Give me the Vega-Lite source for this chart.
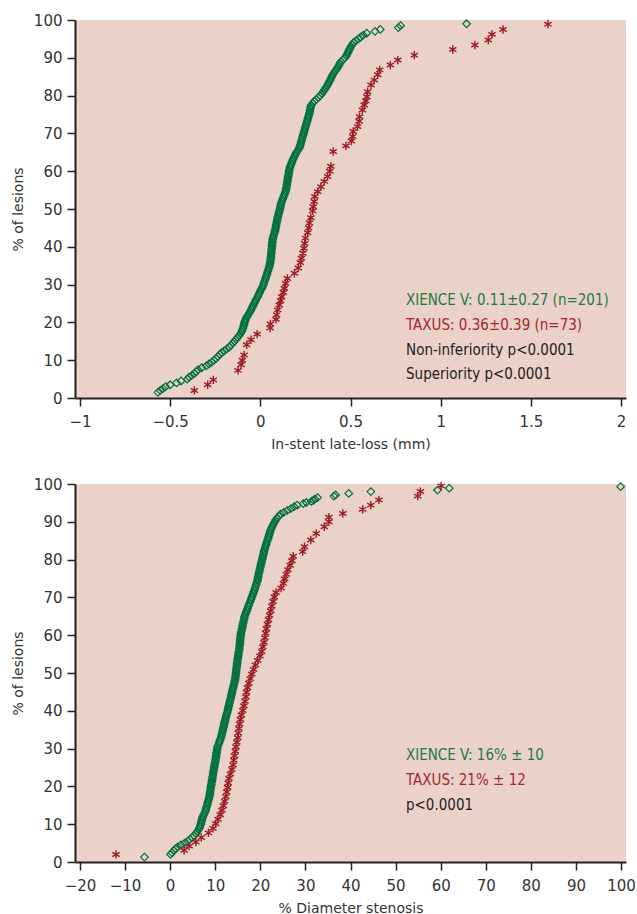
{
"$schema": "https://vega.github.io/schema/vega-lite/v6.json",
"padding": {"left": 11, "top": 13, "right": 5, "bottom": 5},
"background": "white",
"spacing": 26,
"config": {
  "view": {"fill": "#EAD2C9", "stroke": null},
  "axis": {"grid": false, "domainColor": "#231F20", "domainWidth": 2, "tickColor": "#231F20", "tickWidth": 1.5, "tickSize": 8,
    "labelFont": "DejaVu Sans", "labelFontSize": 15, "labelColor": "#333333", "labelFlush": false, "labelOverlap": false,
    "titleFont": "DejaVu Sans", "titleFontSize": 14, "titleFontWeight": "normal", "titleColor": "#333333"},
  "axisX": {"labelPadding": 8, "titlePadding": 8},
  "axisY": {"labelPadding": 5, "titlePadding": 8}
},
"datasets": {
  "topX": [
    {"x":-0.568,"y":1.5},{"x":-0.555,"y":2.0},{"x":-0.54,"y":2.5},{"x":-0.525,"y":3.0},{"x":-0.5,"y":3.5},{"x":-0.465,"y":4.0},{"x":-0.44,"y":4.5},{"x":-0.405,"y":5.0},{"x":-0.395,"y":5.5},{"x":-0.38,"y":6.0},
    {"x":-0.365,"y":6.5},{"x":-0.355,"y":7.0},{"x":-0.345,"y":7.5},{"x":-0.325,"y":8.0},{"x":-0.3,"y":8.5},{"x":-0.285,"y":9.0},{"x":-0.27,"y":9.5},{"x":-0.257,"y":10.0},{"x":-0.245,"y":10.5},{"x":-0.235,"y":11.0},
    {"x":-0.225,"y":11.5},{"x":-0.215,"y":12.0},{"x":-0.2,"y":12.5},{"x":-0.185,"y":13.0},{"x":-0.172,"y":13.5},{"x":-0.163,"y":14.0},{"x":-0.153,"y":14.5},{"x":-0.144,"y":15.0},{"x":-0.135,"y":15.5},{"x":-0.127,"y":16.0},
    {"x":-0.118,"y":16.5},{"x":-0.11,"y":17.0},{"x":-0.104,"y":17.5},{"x":-0.1,"y":18.0},{"x":-0.096,"y":18.5},{"x":-0.093,"y":19.0},{"x":-0.09,"y":19.5},{"x":-0.088,"y":20.0},{"x":-0.084,"y":20.5},{"x":-0.08,"y":21.0},
    {"x":-0.074,"y":21.5},{"x":-0.068,"y":22.0},{"x":-0.061,"y":22.5},{"x":-0.055,"y":23.0},{"x":-0.05,"y":23.5},{"x":-0.045,"y":24.0},{"x":-0.04,"y":24.5},{"x":-0.034,"y":25.0},{"x":-0.029,"y":25.5},{"x":-0.024,"y":26.0},
    {"x":-0.018,"y":26.5},{"x":-0.013,"y":27.0},{"x":-0.008,"y":27.5},{"x":-0.003,"y":28.0},{"x":0.002,"y":28.5},{"x":0.008,"y":29.0},{"x":0.013,"y":29.5},{"x":0.017,"y":30.0},{"x":0.02,"y":30.5},{"x":0.024,"y":31.0},
    {"x":0.028,"y":31.5},{"x":0.031,"y":32.0},{"x":0.035,"y":32.5},{"x":0.038,"y":33.0},{"x":0.041,"y":33.5},{"x":0.045,"y":34.0},{"x":0.048,"y":34.5},{"x":0.051,"y":35.0},{"x":0.053,"y":35.5},{"x":0.055,"y":36.0},
    {"x":0.057,"y":36.5},{"x":0.058,"y":37.0},{"x":0.059,"y":37.5},{"x":0.06,"y":38.0},{"x":0.061,"y":38.5},{"x":0.062,"y":39.0},{"x":0.063,"y":39.5},{"x":0.064,"y":40.0},{"x":0.065,"y":40.5},{"x":0.066,"y":41.0},
    {"x":0.067,"y":41.5},{"x":0.069,"y":42.0},{"x":0.071,"y":42.5},{"x":0.074,"y":43.0},{"x":0.077,"y":43.5},{"x":0.08,"y":44.0},{"x":0.083,"y":44.5},{"x":0.085,"y":45.0},{"x":0.087,"y":45.5},{"x":0.089,"y":46.0},
    {"x":0.091,"y":46.5},{"x":0.093,"y":47.0},{"x":0.095,"y":47.5},{"x":0.097,"y":48.0},{"x":0.1,"y":48.5},{"x":0.103,"y":49.0},{"x":0.106,"y":49.5},{"x":0.109,"y":50.0},{"x":0.111,"y":50.5},{"x":0.113,"y":51.0},
    {"x":0.115,"y":51.5},{"x":0.119,"y":52.0},{"x":0.123,"y":52.5},{"x":0.127,"y":53.0},{"x":0.131,"y":53.5},{"x":0.135,"y":54.0},{"x":0.139,"y":54.5},{"x":0.142,"y":55.0},{"x":0.144,"y":55.5},{"x":0.146,"y":56.0},
    {"x":0.147,"y":56.5},{"x":0.149,"y":57.0},{"x":0.151,"y":57.5},{"x":0.152,"y":58.0},{"x":0.154,"y":58.5},{"x":0.156,"y":59.0},{"x":0.158,"y":59.5},{"x":0.159,"y":60.0},{"x":0.161,"y":60.5},{"x":0.164,"y":61.0},
    {"x":0.168,"y":61.5},{"x":0.172,"y":62.0},{"x":0.176,"y":62.5},{"x":0.18,"y":63.0},{"x":0.185,"y":63.5},{"x":0.19,"y":64.0},{"x":0.195,"y":64.5},{"x":0.2,"y":65.0},{"x":0.208,"y":65.5},{"x":0.215,"y":66.0},
    {"x":0.219,"y":66.5},{"x":0.222,"y":67.0},{"x":0.225,"y":67.5},{"x":0.228,"y":68.0},{"x":0.231,"y":68.5},{"x":0.234,"y":69.0},{"x":0.237,"y":69.5},{"x":0.24,"y":70.0},{"x":0.243,"y":70.5},{"x":0.246,"y":71.0},
    {"x":0.249,"y":71.5},{"x":0.252,"y":72.0},{"x":0.255,"y":72.5},{"x":0.258,"y":73.0},{"x":0.261,"y":73.5},{"x":0.264,"y":74.0},{"x":0.267,"y":74.5},{"x":0.27,"y":75.0},{"x":0.273,"y":75.5},{"x":0.275,"y":76.0},
    {"x":0.277,"y":76.5},{"x":0.279,"y":77.0},{"x":0.282,"y":77.5},{"x":0.29,"y":78.0},{"x":0.3,"y":78.5},{"x":0.31,"y":79.0},{"x":0.322,"y":79.5},{"x":0.333,"y":80.0},{"x":0.341,"y":80.5},{"x":0.348,"y":81.0},
    {"x":0.355,"y":81.5},{"x":0.362,"y":82.0},{"x":0.369,"y":82.5},{"x":0.375,"y":83.0},{"x":0.38,"y":83.5},{"x":0.386,"y":84.0},{"x":0.391,"y":84.5},{"x":0.396,"y":85.0},{"x":0.401,"y":85.5},{"x":0.408,"y":86.0},
    {"x":0.415,"y":86.5},{"x":0.423,"y":87.0},{"x":0.43,"y":87.5},{"x":0.436,"y":88.0},{"x":0.441,"y":88.5},{"x":0.447,"y":89.0},{"x":0.458,"y":89.5},{"x":0.469,"y":90.0},{"x":0.477,"y":90.5},{"x":0.482,"y":91.0},
    {"x":0.487,"y":91.5},{"x":0.492,"y":92.0},{"x":0.497,"y":92.5},{"x":0.503,"y":93.0},{"x":0.509,"y":93.5},{"x":0.516,"y":94.0},{"x":0.53,"y":94.5},{"x":0.544,"y":95.0},{"x":0.557,"y":95.5},{"x":0.571,"y":96.0},
    {"x":0.59,"y":96.5},{"x":0.636,"y":97.0},{"x":0.665,"y":97.5},{"x":0.765,"y":98.0},{"x":0.778,"y":98.5},{"x":1.144,"y":99.0}
  ],
  "topT": [
    {"x":-0.366,"y":2.0},{"x":-0.292,"y":3.5},{"x":-0.261,"y":4.8},{"x":-0.124,"y":7.3},{"x":-0.107,"y":8.8},{"x":-0.1,"y":10.0},{"x":-0.09,"y":11.4},{"x":-0.076,"y":14.1},{"x":-0.052,"y":15.4},{"x":-0.018,"y":16.9},
    {"x":0.054,"y":18.5},{"x":0.056,"y":19.6},{"x":0.087,"y":20.8},{"x":0.09,"y":22.0},{"x":0.096,"y":23.3},{"x":0.105,"y":24.6},{"x":0.112,"y":25.7},{"x":0.118,"y":26.8},{"x":0.128,"y":27.9},{"x":0.133,"y":29.0},
    {"x":0.14,"y":30.3},{"x":0.15,"y":31.6},{"x":0.189,"y":33.0},{"x":0.21,"y":34.4},{"x":0.222,"y":35.8},{"x":0.228,"y":37.0},{"x":0.236,"y":38.3},{"x":0.242,"y":39.6},{"x":0.246,"y":40.9},{"x":0.25,"y":42.3},
    {"x":0.262,"y":43.7},{"x":0.268,"y":45.0},{"x":0.272,"y":46.3},{"x":0.28,"y":47.7},{"x":0.29,"y":49.5},{"x":0.293,"y":50.6},{"x":0.299,"y":52.0},{"x":0.302,"y":53.3},{"x":0.318,"y":54.6},{"x":0.336,"y":55.9},
    {"x":0.355,"y":57.3},{"x":0.373,"y":58.6},{"x":0.385,"y":60.0},{"x":0.391,"y":61.3},{"x":0.404,"y":65.2},{"x":0.475,"y":66.7},{"x":0.505,"y":68.0},{"x":0.512,"y":69.2},{"x":0.515,"y":70.5},{"x":0.539,"y":71.8},
    {"x":0.548,"y":73.2},{"x":0.55,"y":74.4},{"x":0.566,"y":76.2},{"x":0.576,"y":77.5},{"x":0.585,"y":78.6},{"x":0.591,"y":79.7},{"x":0.595,"y":81.0},{"x":0.614,"y":82.8},{"x":0.632,"y":84.1},{"x":0.651,"y":85.5},
    {"x":0.662,"y":86.8},{"x":0.721,"y":88.1},{"x":0.762,"y":89.4},{"x":0.854,"y":90.7},{"x":1.067,"y":92.2},{"x":1.19,"y":93.4},{"x":1.264,"y":94.7},{"x":1.285,"y":96.2},{"x":1.346,"y":97.5},{"x":1.595,"y":98.9}
  ],
  "botX": [
    {"x":-5.7,"y":1.3},{"x":0.1,"y":2.0},{"x":0.4,"y":2.5},{"x":0.8,"y":3.0},{"x":1.2,"y":3.5},{"x":1.7,"y":4.0},{"x":2.4,"y":4.5},{"x":3.2,"y":5.0},{"x":3.9,"y":5.5},{"x":4.4,"y":6.0},
    {"x":4.9,"y":6.5},{"x":5.3,"y":7.0},{"x":5.7,"y":7.5},{"x":6.0,"y":8.0},{"x":6.3,"y":8.5},{"x":6.5,"y":9.0},{"x":6.65,"y":9.5},{"x":6.8,"y":10.0},{"x":6.9,"y":10.5},{"x":7.0,"y":11.0},
    {"x":7.1,"y":11.5},{"x":7.25,"y":12.0},{"x":7.45,"y":12.5},{"x":7.65,"y":13.0},{"x":7.85,"y":13.5},{"x":7.95,"y":14.0},{"x":8.05,"y":14.5},{"x":8.2,"y":15.0},{"x":8.3,"y":15.5},{"x":8.4,"y":16.0},
    {"x":8.55,"y":16.5},{"x":8.65,"y":17.0},{"x":8.75,"y":17.5},{"x":8.8,"y":18.0},{"x":8.85,"y":18.5},{"x":8.95,"y":19.0},{"x":9.0,"y":19.5},{"x":9.05,"y":20.0},{"x":9.15,"y":20.5},{"x":9.2,"y":21.0},
    {"x":9.3,"y":21.5},{"x":9.35,"y":22.0},{"x":9.4,"y":22.5},{"x":9.5,"y":23.0},{"x":9.55,"y":23.5},{"x":9.6,"y":24.0},{"x":9.7,"y":24.5},{"x":9.75,"y":25.0},{"x":9.85,"y":25.5},{"x":9.9,"y":26.0},
    {"x":10.0,"y":26.5},{"x":10.05,"y":27.0},{"x":10.15,"y":27.5},{"x":10.2,"y":28.0},{"x":10.25,"y":28.5},{"x":10.3,"y":29.0},{"x":10.4,"y":29.5},{"x":10.45,"y":30.0},{"x":10.5,"y":30.5},{"x":10.7,"y":31.0},
    {"x":10.85,"y":31.5},{"x":11.0,"y":32.0},{"x":11.15,"y":32.5},{"x":11.3,"y":33.0},{"x":11.4,"y":33.5},{"x":11.5,"y":34.0},{"x":11.6,"y":34.5},{"x":11.7,"y":35.0},{"x":11.8,"y":35.5},{"x":11.9,"y":36.0},
    {"x":12.0,"y":36.5},{"x":12.1,"y":37.0},{"x":12.2,"y":37.5},{"x":12.3,"y":38.0},{"x":12.4,"y":38.5},{"x":12.5,"y":39.0},{"x":12.65,"y":39.5},{"x":12.75,"y":40.0},{"x":12.85,"y":40.5},{"x":12.95,"y":41.0},
    {"x":13.05,"y":41.5},{"x":13.15,"y":42.0},{"x":13.25,"y":42.5},{"x":13.35,"y":43.0},{"x":13.45,"y":43.5},{"x":13.55,"y":44.0},{"x":13.65,"y":44.5},{"x":13.75,"y":45.0},{"x":13.85,"y":45.5},{"x":13.95,"y":46.0},
    {"x":14.05,"y":46.5},{"x":14.15,"y":47.0},{"x":14.25,"y":47.5},{"x":14.35,"y":48.0},{"x":14.45,"y":48.5},{"x":14.5,"y":49.0},{"x":14.55,"y":49.5},{"x":14.6,"y":50.0},{"x":14.65,"y":50.5},{"x":14.7,"y":51.0},
    {"x":14.75,"y":51.5},{"x":14.8,"y":52.0},{"x":14.85,"y":52.5},{"x":14.9,"y":53.0},{"x":14.95,"y":53.5},{"x":15.0,"y":54.0},{"x":15.1,"y":54.5},{"x":15.15,"y":55.0},{"x":15.2,"y":55.5},{"x":15.3,"y":56.0},
    {"x":15.35,"y":56.5},{"x":15.4,"y":57.0},{"x":15.45,"y":57.5},{"x":15.5,"y":58.0},{"x":15.5,"y":58.5},{"x":15.55,"y":59.0},{"x":15.6,"y":59.5},{"x":15.65,"y":60.0},{"x":15.7,"y":60.5},{"x":15.8,"y":61.0},
    {"x":15.9,"y":61.5},{"x":16.0,"y":62.0},{"x":16.05,"y":62.5},{"x":16.15,"y":63.0},{"x":16.25,"y":63.5},{"x":16.35,"y":64.0},{"x":16.45,"y":64.5},{"x":16.5,"y":65.0},{"x":16.7,"y":65.5},{"x":16.85,"y":66.0},
    {"x":17.0,"y":66.5},{"x":17.15,"y":67.0},{"x":17.3,"y":67.5},{"x":17.45,"y":68.0},{"x":17.6,"y":68.5},{"x":17.8,"y":69.0},{"x":17.95,"y":69.5},{"x":18.1,"y":70.0},{"x":18.25,"y":70.5},{"x":18.4,"y":71.0},
    {"x":18.55,"y":71.5},{"x":18.7,"y":72.0},{"x":18.85,"y":72.5},{"x":19.0,"y":73.0},{"x":19.1,"y":73.5},{"x":19.25,"y":74.0},{"x":19.4,"y":74.5},{"x":19.45,"y":75.0},{"x":19.55,"y":75.5},{"x":19.6,"y":76.0},
    {"x":19.7,"y":76.5},{"x":19.8,"y":77.0},{"x":19.9,"y":77.5},{"x":20.0,"y":78.0},{"x":20.1,"y":78.5},{"x":20.2,"y":79.0},{"x":20.3,"y":79.5},{"x":20.4,"y":80.0},{"x":20.5,"y":80.5},{"x":20.6,"y":81.0},
    {"x":20.7,"y":81.5},{"x":20.8,"y":82.0},{"x":20.9,"y":82.5},{"x":21.05,"y":83.0},{"x":21.15,"y":83.5},{"x":21.3,"y":84.0},{"x":21.4,"y":84.5},{"x":21.55,"y":85.0},{"x":21.7,"y":85.5},{"x":21.8,"y":86.0},
    {"x":21.95,"y":86.5},{"x":22.1,"y":87.0},{"x":22.2,"y":87.5},{"x":22.35,"y":88.0},{"x":22.55,"y":88.5},{"x":22.75,"y":89.0},{"x":22.95,"y":89.5},{"x":23.2,"y":90.0},{"x":23.4,"y":90.5},{"x":23.75,"y":91.0},
    {"x":24.1,"y":91.5},{"x":24.5,"y":92.0},{"x":25.2,"y":92.5},{"x":26.0,"y":93.0},{"x":26.8,"y":93.5},{"x":27.5,"y":94.0},{"x":28.2,"y":94.4},{"x":29.5,"y":94.8},{"x":30.2,"y":95.1},{"x":31.3,"y":95.4},
    {"x":31.8,"y":95.7},{"x":32.1,"y":96.0},{"x":32.7,"y":96.4},{"x":36.3,"y":96.8},{"x":36.7,"y":97.1},{"x":39.6,"y":97.5},{"x":44.5,"y":98.0},{"x":59.3,"y":98.4},{"x":61.9,"y":98.9},{"x":99.9,"y":99.3}
  ],
  "botT": [
    {"x":-12.0,"y":2.0},{"x":3.1,"y":3.1},{"x":4.2,"y":4.2},{"x":5.7,"y":5.3},{"x":6.9,"y":6.5},{"x":8.5,"y":7.7},{"x":9.5,"y":8.9},{"x":10.1,"y":10.1},{"x":10.6,"y":11.3},{"x":11.1,"y":12.5},
    {"x":11.5,"y":13.7},{"x":11.8,"y":14.9},{"x":12.1,"y":16.1},{"x":12.35,"y":17.3},{"x":12.55,"y":18.5},{"x":12.75,"y":19.7},{"x":12.9,"y":20.9},{"x":13.05,"y":22.1},{"x":13.35,"y":23.3},{"x":13.7,"y":24.5},
    {"x":13.95,"y":25.7},{"x":14.1,"y":26.9},{"x":14.25,"y":28.1},{"x":14.45,"y":29.3},{"x":14.6,"y":30.5},{"x":14.8,"y":31.7},{"x":15.0,"y":32.9},{"x":15.1,"y":34.1},{"x":15.25,"y":35.3},{"x":15.4,"y":36.5},
    {"x":15.6,"y":37.7},{"x":15.8,"y":38.9},{"x":16.1,"y":40.1},{"x":16.35,"y":41.3},{"x":16.6,"y":42.5},{"x":16.8,"y":43.7},{"x":16.95,"y":44.9},{"x":17.15,"y":46.1},{"x":17.45,"y":47.3},{"x":17.75,"y":48.5},
    {"x":18.1,"y":49.7},{"x":18.5,"y":50.9},{"x":18.9,"y":52.1},{"x":19.4,"y":53.3},{"x":19.9,"y":54.5},{"x":20.3,"y":55.7},{"x":20.55,"y":56.9},{"x":20.8,"y":58.1},{"x":21.0,"y":59.3},{"x":21.2,"y":60.5},
    {"x":21.35,"y":61.7},{"x":21.55,"y":62.9},{"x":21.8,"y":64.1},{"x":22.05,"y":65.3},{"x":22.3,"y":66.5},{"x":22.55,"y":67.7},{"x":22.8,"y":68.9},{"x":23.1,"y":70.1},{"x":23.5,"y":71.3},{"x":24.6,"y":72.5},
    {"x":25.1,"y":73.7},{"x":25.4,"y":74.9},{"x":25.75,"y":76.1},{"x":26.1,"y":77.3},{"x":26.6,"y":78.5},{"x":27.0,"y":79.7},{"x":27.3,"y":80.9},{"x":29.4,"y":82.1},{"x":29.8,"y":83.4},{"x":31.2,"y":85.2},
    {"x":32.4,"y":86.9},{"x":34.2,"y":88.7},{"x":35.2,"y":90.0},{"x":35.2,"y":91.2},{"x":38.3,"y":92.2},{"x":42.7,"y":93.3},{"x":44.5,"y":94.4},{"x":46.3,"y":95.8},{"x":54.9,"y":96.8},{"x":55.5,"y":98.0},
    {"x":60.1,"y":99.5}
  ],
  "topTxt": [
    {"x":0.808,"y":25.8,"t":"XIENCE V: 0.11±0.27 (n=201)","g":"XIENCE V"},
    {"x":0.808,"y":19.2,"t":"TAXUS: 0.36±0.39 (n=73)","g":"TAXUS"},
    {"x":0.808,"y":12.7,"t":"Non-inferiority p<0.0001","g":"stat"},
    {"x":0.808,"y":6.3,"t":"Superiority p<0.0001","g":"stat"}
  ],
  "botTxt": [
    {"x":52.3,"y":28.3,"t":"XIENCE V: 16% ± 10","g":"XIENCE V"},
    {"x":52.3,"y":21.6,"t":"TAXUS: 21% ± 12","g":"TAXUS"},
    {"x":52.3,"y":15.0,"t":"p<0.0001","g":"stat"}
  ]
},
"vconcat": [
  {
    "width": 551, "height": 378,
    "encoding": {
      "x": {"field": "x", "type": "quantitative", "scale": {"domain": [-1.028, 2.028], "nice": false, "zero": false},
            "axis": {"values": [-1, -0.5, 0, 0.5, 1, 1.5, 2], "format": "~g", "title": "In-stent late-loss (mm)"}},
      "y": {"field": "y", "type": "quantitative", "scale": {"domain": [0, 100], "nice": false},
            "axis": {"values": [0, 10, 20, 30, 40, 50, 60, 70, 80, 90, 100], "format": "d", "title": "% of lesions"}}
    },
    "layer": [
      {"data": {"name": "topX"}, "mark": {"type": "point", "shape": "diamond", "filled": false, "color": "#00703C", "size": 58, "strokeWidth": 1.2, "opacity": 1}},
      {"data": {"name": "topT"}, "mark": {"type": "point", "shape": "M0,-1L0,1M-0.87,-0.5L0.87,0.5M-0.87,0.5L0.87,-0.5", "filled": false, "color": "#9E1B24", "size": 70, "strokeWidth": 1.4, "opacity": 1}},
      {"data": {"name": "topTxt"}, "mark": {"type": "text", "align": "left", "baseline": "middle", "font": "DejaVu Sans Condensed, Roboto, sans-serif", "fontSize": 15},
       "encoding": {"text": {"field": "t"}, "color": {"field": "g", "type": "nominal", "scale": {"domain": ["XIENCE V", "TAXUS", "stat"], "range": ["#1E7B3F", "#A3272D", "#231F20"]}, "legend": null}}}
    ]
  },
  {
    "width": 551, "height": 378,
    "encoding": {
      "x": {"field": "x", "type": "quantitative", "scale": {"domain": [-21.1, 101.1], "nice": false, "zero": false},
            "axis": {"values": [-20, -10, 0, 10, 20, 30, 40, 50, 60, 70, 80, 90, 100], "format": "d", "title": "% Diameter stenosis"}},
      "y": {"field": "y", "type": "quantitative", "scale": {"domain": [0, 100], "nice": false},
            "axis": {"values": [0, 10, 20, 30, 40, 50, 60, 70, 80, 90, 100], "format": "d", "title": "% of lesions"}}
    },
    "layer": [
      {"data": {"name": "botX"}, "mark": {"type": "point", "shape": "diamond", "filled": false, "color": "#00703C", "size": 58, "strokeWidth": 1.2, "opacity": 1}},
      {"data": {"name": "botT"}, "mark": {"type": "point", "shape": "M0,-1L0,1M-0.87,-0.5L0.87,0.5M-0.87,0.5L0.87,-0.5", "filled": false, "color": "#9E1B24", "size": 70, "strokeWidth": 1.4, "opacity": 1}},
      {"data": {"name": "botTxt"}, "mark": {"type": "text", "align": "left", "baseline": "middle", "font": "DejaVu Sans Condensed, Roboto, sans-serif", "fontSize": 15},
       "encoding": {"text": {"field": "t"}, "color": {"field": "g", "type": "nominal", "scale": {"domain": ["XIENCE V", "TAXUS", "stat"], "range": ["#1E7B3F", "#A3272D", "#231F20"]}, "legend": null}}}
    ]
  }
]
}
